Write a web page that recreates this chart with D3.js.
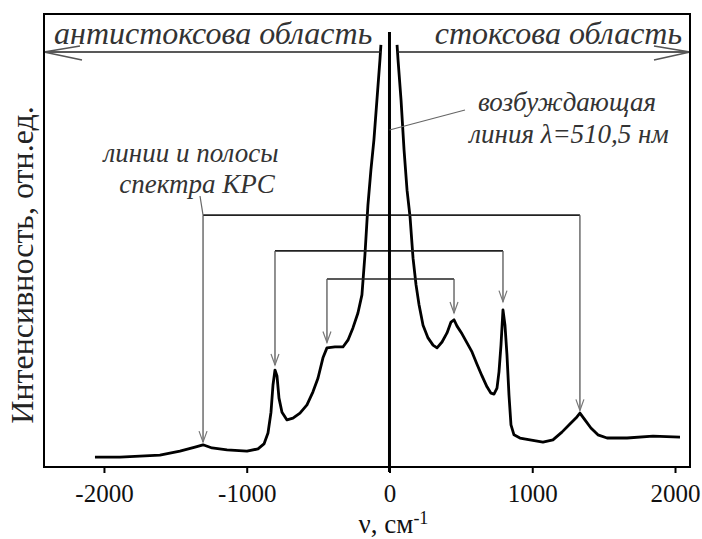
<!DOCTYPE html>
<html>
<head>
<meta charset="utf-8">
<script src="https://cdn.jsdelivr.net/npm/d3@7"></script>
<style>
  body { margin: 0; background: #fff; }
  svg { display: block; }
</style>
</head>
<body>
<div id="chart"></div>
<script>
// Raman shift, cm-1 (anti-Stokes branch, left of the laser line)
const antiStokesShift = [-2063, -1888, -1748, -1608, -1468, -1362, -1306, -1243, -1138, -998, -921, -879, -851, -830, -816, -802, -788, -774, -753, -718, -676, -627, -578, -536, -501, -466, -438, -382, -326, -291, -256, -221, -193, -172, -151, -130, -109, -88, -67, -60];
const antiStokesIntensity = [2.2, 2.2, 2.4, 2.6, 3.5, 4.4, 4.9, 4.2, 3.8, 3.5, 4.0, 5.1, 7.5, 12.1, 18.1, 21.4, 20.1, 15.2, 12.1, 10.4, 10.8, 11.9, 13.7, 16.6, 19.6, 24.1, 26.3, 26.5, 26.5, 28.0, 30.7, 34.0, 38.0, 46.8, 57.8, 65.6, 72.2, 81.0, 89.8, 93.2];

// Stokes branch, right of the laser line
const stokesShift = [53, 60, 81, 102, 123, 144, 165, 186, 207, 235, 270, 305, 333, 368, 403, 431, 452, 473, 508, 543, 578, 613, 648, 683, 711, 732, 753, 767, 781, 795, 809, 823, 837, 851, 872, 914, 984, 1075, 1145, 1208, 1264, 1306, 1334, 1369, 1411, 1460, 1524, 1664, 1846, 2035];
const stokesIntensity = [93.2, 89.8, 81.0, 70.0, 61.1, 55.2, 46.1, 40.2, 35.8, 31.3, 28.5, 26.9, 26.3, 27.6, 29.6, 32.0, 32.5, 31.1, 29.4, 27.4, 25.4, 22.7, 20.1, 17.7, 16.3, 16.1, 17.4, 21.0, 26.9, 34.7, 31.3, 24.7, 15.9, 9.3, 7.1, 6.4, 6.0, 5.5, 6.0, 7.7, 9.5, 10.8, 11.9, 10.4, 8.6, 7.1, 6.4, 6.4, 6.8, 6.6];

// Raman line pairs joined by brackets (anti-Stokes / Stokes)
const pairAntiStokes = [-1306, -802, -438];
const pairStokes = [1334, 795, 452];
const pairLevel = [55.6, 47.7, 41.5];
const tipAntiStokes = [5.5, 22.5, 27.5];
const tipStokes = [12.5, 36.5, 34.0];

const xTicks = [-2000, -1000, 0, 1000, 2000];

const width = 702;
const height = 539;
const margin = { top: 14, right: 12, bottom: 72, left: 44 };

const svg = d3.select('#chart')
  .append('svg')
  .attr('width', width)
  .attr('height', height);

const x = d3.scaleLinear()
  .domain([-2420, 2105])
  .range([margin.left, width - margin.right]);

const y = d3.scaleLinear()
  .domain([0, 100])
  .range([height - margin.bottom, margin.top]);

const serif = '"Liberation Serif", "Times New Roman", serif';

// clip for the spectrum
svg.append('clipPath').attr('id', 'plot')
  .append('rect')
  .attr('x', margin.left).attr('y', margin.top)
  .attr('width', width - margin.left - margin.right)
  .attr('height', height - margin.top - margin.bottom);

// spectrum
const line = d3.line()
  .x(d => x(d[0]))
  .y(d => y(d[1]));

const antiStokes = antiStokesShift.map((v, i) => [v, antiStokesIntensity[i]]);
const stokes = stokesShift.map((v, i) => [v, stokesIntensity[i]]);

[antiStokes, stokes].forEach(data => {
  svg.append('path')
    .datum(data)
    .attr('clip-path', 'url(#plot)')
    .attr('d', line)
    .attr('fill', 'none')
    .attr('stroke', '#000')
    .attr('stroke-width', 2.8)
    .attr('stroke-linejoin', 'round');
});

// brackets with down arrows
const g = svg.append('g');
pairLevel.forEach((lvl, i) => {
  const x1 = x(pairAntiStokes[i]);
  const x2 = x(pairStokes[i]);
  const yl = y(lvl);
  g.append('line')
    .attr('x1', x1).attr('x2', x2)
    .attr('y1', yl).attr('y2', yl)
    .attr('stroke', '#222').attr('stroke-width', 1.6);
  [[x1, y(tipAntiStokes[i])], [x2, y(tipStokes[i])]].forEach(([px, py]) => {
    g.append('line')
      .attr('x1', px).attr('x2', px)
      .attr('y1', yl).attr('y2', py)
      .attr('stroke', '#555').attr('stroke-width', 1.3);
    g.append('path')
      .attr('d', `M${px - 4},${py - 11}L${px},${py}L${px + 4},${py - 11}`)
      .attr('fill', 'none')
      .attr('stroke', '#777').attr('stroke-width', 1.2);
  });
});

// laser line
svg.append('line')
  .attr('x1', x(0)).attr('x2', x(0))
  .attr('y1', 32).attr('y2', height - margin.bottom + 5)
  .attr('stroke', '#000').attr('stroke-width', 3);

// anti-Stokes / Stokes arrows
const arrowY = 52;
const arrows = svg.append('g')
  .attr('fill', 'none')
  .attr('stroke', '#222')
  .attr('stroke-width', 1.6);
arrows.append('line')
  .attr('x1', margin.left).attr('x2', x(-60))
  .attr('y1', arrowY).attr('y2', arrowY);
arrows.append('line')
  .attr('x1', x(55)).attr('x2', width - margin.right)
  .attr('y1', arrowY).attr('y2', arrowY);
arrows.append('path')
  .attr('d', `M${margin.left + 36},${arrowY - 6}L${margin.left},${arrowY}L${margin.left + 38},${arrowY + 8}`)
  .attr('stroke', '#555');
arrows.append('path')
  .attr('d', `M${width - margin.right - 36},${arrowY - 6}L${width - margin.right},${arrowY}L${width - margin.right - 36},${arrowY + 8}`)
  .attr('stroke', '#555');

// frame
svg.append('rect')
  .attr('x', margin.left).attr('y', margin.top)
  .attr('width', width - margin.left - margin.right)
  .attr('height', height - margin.top - margin.bottom)
  .attr('fill', 'none')
  .attr('stroke', '#000')
  .attr('stroke-width', 2);

// x axis
const xAxis = svg.append('g')
  .attr('transform', `translate(0, ${height - margin.bottom})`)
  .call(d3.axisBottom(x).tickValues(xTicks).tickSize(6).tickPadding(11).tickFormat(d3.format('d')));
xAxis.select('.domain').remove();
xAxis.selectAll('line').attr('stroke', '#000').attr('stroke-width', 2);
xAxis.selectAll('text')
  .style('font-family', serif)
  .style('font-size', '25px')
  .attr('fill', '#111')
  .text(d => String(d).replace('\u2212', '-'));

svg.append('text')
  .attr('x', x(0) + 4)
  .attr('y', 533)
  .attr('text-anchor', 'middle')
  .style('font-family', serif)
  .style('font-size', '27px')
  .attr('fill', '#111')
  .html('ν, см<tspan dy="-9" font-size="18">-1</tspan>');

// y axis title
svg.append('text')
  .attr('transform', 'translate(33, 265) rotate(-90)')
  .attr('text-anchor', 'middle')
  .style('font-family', serif)
  .style('font-size', '32px')
  .attr('fill', '#222')
  .text('Интенсивность, отн.ед.');

// region labels
const italic = (sel, size) => sel
  .style('font-family', serif)
  .style('font-style', 'italic')
  .style('font-size', size)
  .attr('fill', '#333');

svg.append('text')
  .attr('x', 54).attr('y', 44)
  .call(italic, '32px')
  .text('антистоксова область');
svg.append('text')
  .attr('x', 682).attr('y', 44)
  .attr('text-anchor', 'end')
  .call(italic, '32px')
  .text('стоксова область');

// annotation: Raman lines
svg.append('text')
  .attr('x', 191).attr('y', 162)
  .attr('text-anchor', 'middle')
  .call(italic, '27px')
  .text('линии и полосы');
svg.append('text')
  .attr('x', 197).attr('y', 193)
  .attr('text-anchor', 'middle')
  .call(italic, '27px')
  .text('спектра КРС');
svg.append('line')
  .attr('x1', 200).attr('y1', 196)
  .attr('x2', x(pairAntiStokes[0])).attr('y2', y(pairLevel[0]))
  .attr('stroke', '#666').attr('stroke-width', 1.2);

// annotation: laser line
svg.append('text')
  .attr('x', 567).attr('y', 111)
  .attr('text-anchor', 'middle')
  .call(italic, '27px')
  .text('возбуждающая');
svg.append('text')
  .attr('x', 569).attr('y', 143)
  .attr('text-anchor', 'middle')
  .call(italic, '27px')
  .text('линия λ=510,5 нм');
svg.append('line')
  .attr('x1', x(0)).attr('y1', 130)
  .attr('x2', 465).attr('y2', 110)
  .attr('stroke', '#666').attr('stroke-width', 1.2);
</script>
</body>
</html>
